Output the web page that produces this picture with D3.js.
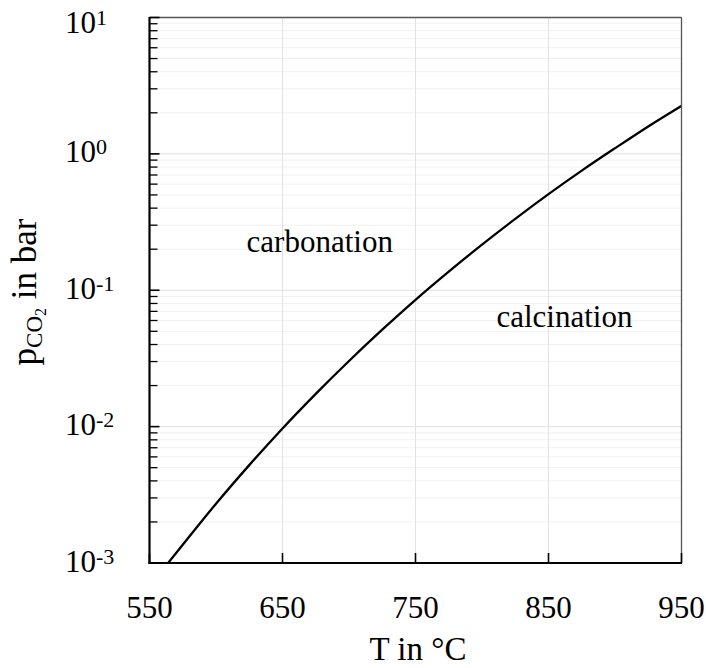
<!DOCTYPE html>
<html>
<head>
<meta charset="utf-8">
<script src="https://cdn.jsdelivr.net/npm/d3@7"></script>
<style>
  html, body { margin: 0; padding: 0; background: #fff; }
  svg { display: block; }
  text { font-family: "Liberation Serif", "DejaVu Serif", serif; fill: #000; }
</style>
</head>
<body>
<div id="chart"></div>
<script>
// Equilibrium CO2 partial pressure (bar) vs temperature (°C)
const tempC = [564, 575, 600, 625, 650, 675, 700, 725, 750, 775, 800, 825, 850, 875, 900, 925, 950];
const pCO2  = [0.0010, 0.00136, 0.00272, 0.00522, 0.0097, 0.0174, 0.0303, 0.0514, 0.0851, 0.137, 0.216, 0.334, 0.507, 0.754, 1.10, 1.59, 2.25];

const xTicks = [550, 650, 750, 850, 950];
const yDecadeExps = [1, 0, -1, -2, -3];
const regionLabels = ["carbonation", "calcination"];
const regionAt = [[678, 0.192], [862, 0.0535]];
const xTitle = "T in °C";

const W = 706, H = 668;
const x = d3.scaleLinear().domain([550, 950]).range([149.5, 681.5]);
const y = d3.scaleLog().domain([1e-3, 10]).range([563, 17.5]);

const svg = d3.select("#chart").append("svg").attr("width", W).attr("height", H);

const x0 = x.range()[0], x1 = x.range()[1], yT = y.range()[1], yB = y.range()[0];

const yMinor = [];
for (let e = -3; e < 1; e++) for (let k = 2; k <= 9; k++) yMinor.push(k * Math.pow(10, e));
const yMajor = yDecadeExps.map(e => Math.pow(10, e));

// grid
const grid = svg.append("g");
grid.selectAll(".ym").data(yMinor).join("line")
  .attr("x1", x0).attr("x2", x1).attr("y1", d => y(d)).attr("y2", d => y(d))
  .attr("stroke", "#f1f1f1").attr("stroke-width", 1);
grid.selectAll(".yM").data(yMajor).join("line")
  .attr("x1", x0).attr("x2", x1).attr("y1", d => y(d)).attr("y2", d => y(d))
  .attr("stroke", "#e2e2e2").attr("stroke-width", 1);
grid.selectAll(".xM").data(xTicks).join("line")
  .attr("x1", d => x(d)).attr("x2", d => x(d)).attr("y1", yT).attr("y2", yB)
  .attr("stroke", "#e2e2e2").attr("stroke-width", 1);

// curve
svg.append("clipPath").attr("id", "clip").append("rect")
  .attr("x", x0).attr("y", yT).attr("width", x1 - x0).attr("height", yB - yT);
const data = tempC.map((t, i) => ({ t, p: pCO2[i] }));
svg.append("path").datum(data)
  .attr("clip-path", "url(#clip)")
  .attr("fill", "none").attr("stroke", "#000").attr("stroke-width", 2.3)
  .attr("d", d3.line().x(d => x(d.t)).y(d => y(d.p)).curve(d3.curveMonotoneX));

// frame: top & right thin grey
svg.append("line").attr("x1", x0).attr("x2", x1).attr("y1", yT).attr("y2", yT)
  .attr("stroke", "#555").attr("stroke-width", 1.3);
svg.append("line").attr("x1", x1).attr("x2", x1).attr("y1", yT).attr("y2", yB)
  .attr("stroke", "#555").attr("stroke-width", 1.3);

// left axis with inward ticks
const yAxisG = svg.append("g");
yAxisG.selectAll(".tm").data(yMinor).join("line")
  .attr("x1", x0).attr("x2", x0 + 8).attr("y1", d => y(d)).attr("y2", d => y(d))
  .attr("stroke", "#000").attr("stroke-width", 1.3);
yAxisG.selectAll(".tM").data(yMajor).join("line")
  .attr("x1", x0).attr("x2", x0 + 10).attr("y1", d => y(d)).attr("y2", d => y(d))
  .attr("stroke", "#000").attr("stroke-width", 1.6);
yAxisG.append("line").attr("x1", x0).attr("x2", x0).attr("y1", yT - 0.5).attr("y2", yB + 1)
  .attr("stroke", "#000").attr("stroke-width", 2.2);

// bottom axis
const xAxisG = svg.append("g");
xAxisG.selectAll(".xt").data(xTicks).join("line")
  .attr("x1", d => x(d)).attr("x2", d => x(d)).attr("y1", yB).attr("y2", yB - 10)
  .attr("stroke", "#000").attr("stroke-width", 1.6);
xAxisG.append("line").attr("x1", x0 - 1).attr("x2", x1 + 0.5).attr("y1", yB).attr("y2", yB)
  .attr("stroke", "#000").attr("stroke-width", 2.2);

// x tick labels
svg.selectAll(".xl").data(xTicks).join("text")
  .attr("x", d => x(d)).attr("y", 618)
  .attr("text-anchor", "middle").attr("font-size", 31)
  .text(d => d);

// y tick labels
const yl = svg.selectAll(".yl").data(yDecadeExps).join("text")
  .attr("x", 65).attr("y", d => Math.max(y(Math.pow(10, d)) + 8.5, 33))
  .attr("font-size", 31);
yl.append("tspan").text("10");
yl.append("tspan").attr("font-size", 22).attr("dy", -8).text(d => String(d));

// axis titles
svg.append("text").attr("x", 418).attr("y", 660)
  .attr("text-anchor", "middle").attr("font-size", 33).text(xTitle);

const yt = svg.append("text")
  .attr("transform", "translate(36,292) rotate(-90)")
  .attr("text-anchor", "middle").attr("font-size", 35);
yt.append("tspan").text("p");
yt.append("tspan").attr("font-size", 23).attr("dy", 6).text("CO");
yt.append("tspan").attr("font-size", 16).attr("dy", 4).text("2");
yt.append("tspan").attr("font-size", 35).attr("dy", -10).text(" in bar");

// region labels
svg.selectAll(".rl").data(regionLabels).join("text")
  .attr("x", (d, i) => x(regionAt[i][0]))
  .attr("y", (d, i) => y(regionAt[i][1]))
  .attr("text-anchor", "middle").attr("font-size", 31)
  .text(d => d);
</script>
</body>
</html>
